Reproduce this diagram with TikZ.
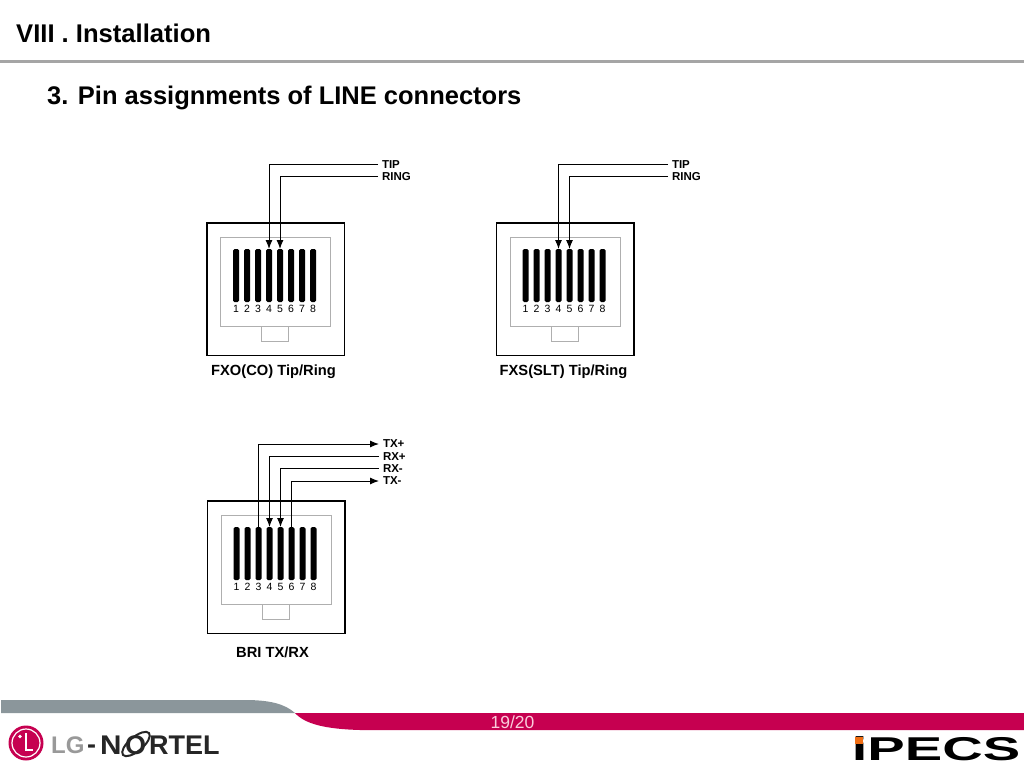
\documentclass[tikz,border=0pt]{standalone}
\usepackage{fontspec}
\setmainfont{Liberation Sans}
\usetikzlibrary{arrows.meta}
\definecolor{lgred}{RGB}{198,0,80}
\definecolor{bandgray}{RGB}{139,150,155}
\definecolor{rulegray}{RGB}{165,165,165}
\definecolor{innergray}{RGB}{175,175,175}
\definecolor{dotorange}{RGB}{240,110,20}
\definecolor{pagepink}{RGB}{250,205,220}
\tikzset{
  x=1pt,y=-1pt,
  pin/.style={fill=black,draw=none,rounded corners=1.5pt,minimum width=6pt,minimum height=53pt,inner sep=0pt,outer sep=0pt},
  pinnum/.style={font=\fontsize{10.5}{10.5}\selectfont,inner sep=0pt},
  sig/.style={font=\bfseries\fontsize{11.5}{11.5}\selectfont,anchor=west,inner sep=0pt,outer sep=4pt},
  caption/.style={font=\bfseries\fontsize{14.7}{14.7}\selectfont,inner sep=0pt},
  wire/.style={line width=1pt,black},
  wiretip/.style={wire,-{Latex[length=9pt,width=7pt]}},
  logotext/.style={font=\bfseries\fontsize{24}{24}\selectfont,anchor=west,inner sep=0pt},
  nortext/.style={font=\bfseries\fontsize{27}{27}\selectfont,anchor=west,inner sep=0pt,text=black!85}
}
% one jack: #1 name, #2 left edge, #3 top edge
\newcommand{\jack}[3]{
  \begin{scope}[shift={(#2,#3)}]
    \node[draw=black,line width=1.8pt,minimum width=137.5pt,minimum height=132.5pt,inner sep=0pt,anchor=north west] (#1box) at (0,0) {};
    \node[draw=innergray,line width=0.6pt,minimum width=110pt,minimum height=89pt,inner sep=0pt,anchor=north west] (#1face) at (14,15) {};
    \node[draw=innergray,line width=0.6pt,minimum width=27pt,minimum height=15pt,inner sep=0pt,anchor=north west] (#1latch) at (55,104) {};
    \foreach \n in {1,...,8} {
      \node[pin] (#1p\n) at ({19+11*\n},53.5) {};
      \node[pinnum] (#1n\n) at ({19+11*\n},87) {\n};
    }
  \end{scope}
}
\begin{document}
\begin{tikzpicture}
  \useasboundingbox (0,0) rectangle (1024,768);
  % header
  \node[font=\bfseries\fontsize{25.6}{25.6}\selectfont,anchor=west,inner sep=0pt] (head) at (16,33.5) {VIII . Installation};
  \coordinate (ruleL) at (0,61);
  \coordinate (ruleR) at (1024,61);
  \draw[rulegray,line width=3pt] (ruleL) -- (ruleR);
  \node[font=\bfseries\fontsize{25.5}{25.5}\selectfont,anchor=west,inner sep=0pt] (title) at (47,98) {3. Pin assignments of LINE connectors};
  % jacks
  \jack{a}{206}{222}
  \jack{b}{495.5}{222}
  \jack{c}{206.5}{500}
  % signal names
  \node[sig] (atip) at (378,164.5) {TIP};
  \node[sig] (aring) at (378,176.5) {RING};
  \node[sig] (btip) at (668,164.5) {TIP};
  \node[sig] (bring) at (668,176.5) {RING};
  \node[sig] (ctxp) at (379,444) {TX+};
  \node[sig] (crxp) at (379,456.5) {RX+};
  \node[sig] (crxm) at (379,468.5) {RX-};
  \node[sig] (ctxm) at (379,481) {TX-};
  % wires
  \draw[wiretip] (atip.west) -| (ap4.north);
  \draw[wiretip] (aring.west) -| (ap5.north);
  \draw[wiretip] (btip.west) -| (bp4.north);
  \draw[wiretip] (bring.west) -| (bp5.north);
  \draw[wiretip] (cp3.north) |- (ctxp.west);
  \draw[wiretip] (crxp.west) -| (cp4.north);
  \draw[wiretip] (crxm.west) -| (cp5.north);
  \draw[wiretip] (cp6.north) |- (ctxm.west);
  % captions
  \node[caption] (acap) at (273.5,372) {FXO(CO) Tip/Ring};
  \node[caption] (bcap) at (563.5,372) {FXS(SLT) Tip/Ring};
  \node[caption] (ccap) at (272.5,652.5) {BRI TX/RX};
  % footer
  \fill[bandgray] (1,700) -- (245,700) .. controls (270,700) and (285,704) .. (295,713) -- (1,713) -- cycle;
  \fill[lgred] (295,713) -- (1024,713) -- (1024,730) -- (360,730) .. controls (325,729) and (305,724) .. (295,713) -- cycle;
  \node[font=\fontsize{17.5}{17.5}\selectfont,text=pagepink,inner sep=0pt] (page) at (512.5,722.5) {19/20};
  % logos
  \fill[lgred] (26,743) circle (17.5);
  \draw[white,line width=1.2pt] (26,743) circle (14);
  \fill[white] (20,736.5) circle (1.8);
  \draw[white,line width=1.6pt] (26,733) -- (26,750) -- (33,750);
  \node[logotext,text=black!40] (lg) at (51,745) {LG};
  \node[nortext] (dash) at (87,749) {-};
  \node[nortext] (nn) at (100,745) {\scalebox{1.1}[1]{N}};
  \node[nortext] (oo) at (125,745) {O};
  \draw[black!85,line width=2pt,rotate around={40:(136,744)}] (136,744) ellipse (17 and 7);
  \node[nortext] (rtel) at (149,745) {RTEL};
  \node[font=\bfseries\fontsize{30}{30}\selectfont,text=black,inner sep=0pt] (ipecs) at (936,749) {\scalebox{1.87}[1.1]{iPECS}};
  \fill[dotorange] (855,737) rectangle (863,744);
\end{tikzpicture}
\end{document}
